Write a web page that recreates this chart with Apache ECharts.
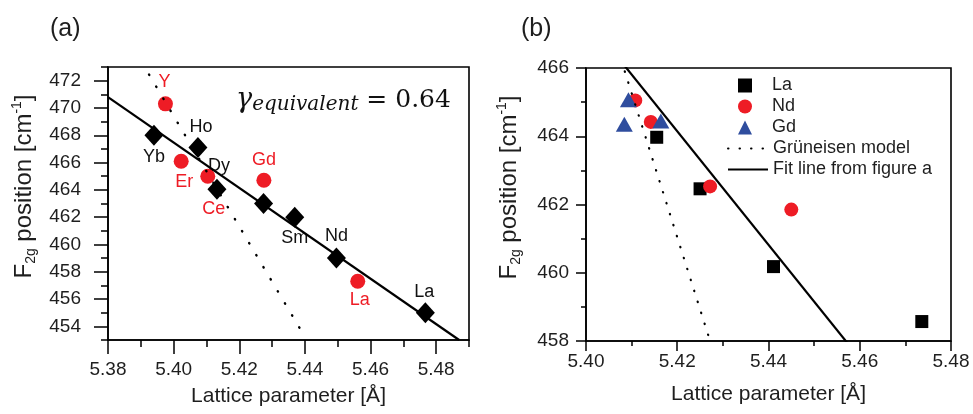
<!DOCTYPE html>
<html><head><meta charset="utf-8">
<script src="https://cdn.jsdelivr.net/npm/echarts@6/dist/echarts.min.js"></script>
<style>html,body{margin:0;padding:0;background:#fff}#c{width:973px;height:414px}</style>
</head><body><div id="c"></div>
<script>
// ---------- Panel (a) data ----------
const aDiamondNames = ['Yb', 'Ho', 'Dy', '', 'Sm', 'Nd', 'La'];
const aDiamondX = [5.394, 5.4074, 5.4132, 5.4274, 5.4369, 5.4496, 5.4767];
const aDiamondY = [468.0, 467.1, 464.05, 463.0, 462.0, 459.0, 455.0];
const aCircleNames = ['Y', 'Er', 'Ce', 'Gd', 'La'];
const aCircleX = [5.3975, 5.4023, 5.4104, 5.4275, 5.4561];
const aCircleY = [470.3, 466.1, 465.0, 464.7, 457.3];
const fitX = [5.38, 5.487];
const fitY = [470.8, 453.0];
const aGrunX = [5.3925, 5.4392];
const aGrunY = [472.45, 453.55];
const aXTicks = [5.38, 5.40, 5.42, 5.44, 5.46, 5.48];
const aYTicks = [454, 456, 458, 460, 462, 464, 466, 468, 470, 472];
const gammaText = 'γ|equivalent| = 0.64';
// ---------- Panel (b) data ----------
const bLaX = [5.4155, 5.4250, 5.4411, 5.4736];
const bLaY = [463.97, 462.46, 460.18, 458.57];
const bNdX = [5.4108, 5.4142, 5.4272, 5.4450];
const bNdY = [465.05, 464.42, 462.53, 461.85];
const bGdX = [5.4093, 5.4084, 5.4164];
const bGdY = [465.07, 464.35, 464.45];
const bGrunX = [5.4085, 5.4272];
const bGrunY = [465.9, 458.0];
const legendNames = ['La', 'Nd', 'Gd', 'Grüneisen model', 'Fit line from figure a'];
const panelLabels = ['(a)', '(b)'];

// ---------- styles ----------
const FONT = '"Liberation Sans", Arial, sans-serif';
const SERIF = '"DejaVu Serif", serif';
const RED = '#ee1c25';
const BLUE = '#2f4d9e';
const TXT = '#1e1e1e';
// label offsets (pixels) for annotations in panel (a)
const aDiamondLabelOff = [[0, 22], [3, -21], [2, -23], [0, 0], [0, 21], [0, -22], [-1, -21]];
const aCircleLabelOff = [[-1, -22], [3, 21], [6, 33], [0, -20], [2, 19]];

const zip = (xs, ys) => xs.map((x, i) => [x, ys[i]]);

const yNameRich = {
  t: {fontSize: 24, fontFamily: FONT, color: TXT, lineHeight: 28},
  s: {fontSize: 14, fontFamily: FONT, color: TXT, lineHeight: 14, verticalAlign: 'bottom'},
  p: {fontSize: 14, fontFamily: FONT, color: TXT, lineHeight: 14, verticalAlign: 'top'}
};
const yName = '{t|F}{s|2g}{t| position [cm}{p|-1}{t|]}';

function mainAxisCommon() {
  return {
    type: 'value',
    splitLine: {show: false},
    axisLine: {show: true, lineStyle: {color: '#000', width: 1.6}},
    axisTick: {show: true, inside: false, lineStyle: {color: '#000', width: 1.5}},
    axisLabel: {color: TXT, fontSize: 19, fontFamily: FONT},
    nameTextStyle: {color: TXT, fontSize: 21, fontFamily: FONT}
  };
}
function minorAxis(gridIndex, min, max, interval, pos) {
  return {
    type: 'value', gridIndex, min, max, interval, position: pos,
    splitLine: {show: false},
    axisLine: {show: false},
    axisLabel: {show: false},
    axisTick: {show: true, length: 7, lineStyle: {color: '#000', width: 1.5}}
  };
}

const gp = gammaText.split('|');
const noDot = {opacity: 0};
const legendText = {fontSize: 18, fontFamily: FONT, color: TXT, lineHeight: 21};

const option = {
  animation: false,
  backgroundColor: '#fff',
  title: [
    {text: panelLabels[0], left: 45, top: 12, textStyle: {fontSize: 25, fontWeight: 'normal', fontFamily: FONT, color: TXT}},
    {text: panelLabels[1], left: 516, top: 12, textStyle: {fontSize: 25, fontWeight: 'normal', fontFamily: FONT, color: TXT}},
    {
      text: '{g|' + gp[0] + '}{s|' + gp[1] + '}{m|' + gp[2] + '}',
      left: 231, top: 80,
      textStyle: {
        fontWeight: 'normal',
        rich: {
          g: {fontSize: 27, fontFamily: SERIF, fontStyle: 'italic', fontWeight: 'normal', color: '#111', lineHeight: 30},
          s: {fontSize: 20, fontFamily: SERIF, fontStyle: 'italic', fontWeight: 'normal', color: '#111', lineHeight: 24, verticalAlign: 'bottom'},
          m: {fontSize: 25, fontFamily: SERIF, fontWeight: 'normal', color: '#111', lineHeight: 30}
        }
      }
    }
  ],
  grid: [
    {left: 108, top: 67, width: 361, height: 273, show: true, borderColor: '#000', borderWidth: 1.6, backgroundColor: 'transparent'},
    {left: 586, top: 68, width: 365, height: 273, show: true, borderColor: '#000', borderWidth: 1.6, backgroundColor: 'transparent'}
  ],
  legend: [
    {
      orient: 'vertical', left: 733, top: 70,
      itemWidth: 14, itemHeight: 14, itemGap: 0,
      textStyle: Object.assign({padding: [0, 0, 0, 15]}, legendText),
      data: [
        {name: legendNames[0], icon: 'rect'},
        {name: legendNames[1], icon: 'circle'},
        {name: legendNames[2], icon: 'triangle'}
      ],
      selectedMode: false
    },
    {
      orient: 'vertical', left: 722, top: 133,
      itemWidth: 40, itemHeight: 14, itemGap: 0,
      textStyle: legendText,
      data: [
        {name: legendNames[3], itemStyle: noDot},
        {name: legendNames[4], itemStyle: noDot}
      ],
      selectedMode: false
    }
  ],
  xAxis: [
    Object.assign(mainAxisCommon(), {
      gridIndex: 0, min: 5.38, max: 5.49, position: 'bottom',
      axisTick: {show: true, length: 14, customValues: aXTicks, lineStyle: {color: '#000', width: 1.5}},
      axisLabel: {color: TXT, fontSize: 19, fontFamily: FONT, margin: 20, customValues: aXTicks, formatter: v => Number(v).toFixed(2)},
      name: 'Lattice parameter [Å]', nameLocation: 'middle', nameGap: 46
    }),
    minorAxis(0, 5.38, 5.49, 0.01, 'bottom'),
    Object.assign(mainAxisCommon(), {
      gridIndex: 1, min: 5.40, max: 5.48, interval: 0.02, position: 'bottom',
      axisTick: {show: true, length: 10, lineStyle: {color: '#000', width: 1.5}},
      minorTick: {show: true, splitNumber: 2, length: 5, lineStyle: {color: '#000', width: 1.5}},
      axisLabel: {color: TXT, fontSize: 19, fontFamily: FONT, margin: 11, formatter: v => Number(v).toFixed(2)},
      name: 'Lattice parameter [Å]', nameLocation: 'middle', nameGap: 43
    })
  ],
  yAxis: [
    Object.assign(mainAxisCommon(), {
      gridIndex: 0, min: 453, max: 473, position: 'left',
      axisTick: {show: true, length: 14, customValues: aYTicks, lineStyle: {color: '#000', width: 1.5}},
      axisLabel: {color: TXT, fontSize: 19, fontFamily: FONT, margin: 27, customValues: aYTicks},
      name: yName, nameLocation: 'middle', nameGap: 70, nameRotate: 90,
      nameTextStyle: {rich: yNameRich, padding: [0, 0, 0, 34]}
    }),
    minorAxis(0, 453, 473, 1, 'left'),
    Object.assign(mainAxisCommon(), {
      gridIndex: 1, min: 458, max: 466, interval: 2, position: 'left',
      axisTick: {show: true, length: 10, lineStyle: {color: '#000', width: 1.5}},
      minorTick: {show: true, splitNumber: 2, length: 5, lineStyle: {color: '#000', width: 1.5}},
      axisLabel: {color: TXT, fontSize: 19, fontFamily: FONT, margin: 17},
      name: yName, nameLocation: 'middle', nameGap: 63, nameRotate: 90,
      nameTextStyle: {rich: yNameRich, padding: [0, 0, 0, 34]}
    })
  ],
  series: [
    // ----- panel (a) -----
    {
      name: 'a-diamonds', type: 'scatter', xAxisIndex: 0, yAxisIndex: 0,
      symbol: 'diamond', symbolSize: [19, 21],
      itemStyle: {color: '#000', opacity: 1},
      data: aDiamondX.map((x, i) => ({name: aDiamondNames[i], value: [x, aDiamondY[i]]})),
      label: {show: true, position: 'inside', formatter: '{b}', fontSize: 18, fontFamily: FONT, color: '#111'},
      labelLayout: p => ({dx: aDiamondLabelOff[p.dataIndex][0], dy: aDiamondLabelOff[p.dataIndex][1]}),
      z: 3
    },
    {
      name: 'a-circles', type: 'scatter', xAxisIndex: 0, yAxisIndex: 0,
      symbol: 'circle', symbolSize: 15,
      itemStyle: {color: RED, opacity: 1},
      data: aCircleX.map((x, i) => ({name: aCircleNames[i], value: [x, aCircleY[i]]})),
      label: {show: true, position: 'inside', formatter: '{b}', fontSize: 18, fontFamily: FONT, color: RED},
      labelLayout: p => ({dx: aCircleLabelOff[p.dataIndex][0], dy: aCircleLabelOff[p.dataIndex][1]}),
      z: 4
    },
    {
      name: 'a-fit', type: 'line', xAxisIndex: 0, yAxisIndex: 0,
      data: zip(fitX, fitY), symbol: 'none', clip: true,
      lineStyle: {color: '#000', width: 2.2}, z: 5
    },
    {
      name: 'a-grun', type: 'line', xAxisIndex: 0, yAxisIndex: 0,
      data: zip(aGrunX, aGrunY), symbol: 'none', clip: true,
      lineStyle: {color: '#000', width: 2.4, type: [0.5, 13.5], cap: 'round'}, z: 5
    },
    // ----- panel (b) -----
    {
      name: legendNames[0], type: 'scatter', xAxisIndex: 2, yAxisIndex: 2,
      symbol: 'rect', symbolSize: 13, itemStyle: {color: '#000', opacity: 1},
      data: zip(bLaX, bLaY), z: 3
    },
    {
      name: legendNames[1], type: 'scatter', xAxisIndex: 2, yAxisIndex: 2,
      symbol: 'circle', symbolSize: 14, itemStyle: {color: RED, opacity: 1},
      data: zip(bNdX, bNdY), z: 3
    },
    {
      name: legendNames[2], type: 'scatter', xAxisIndex: 2, yAxisIndex: 2,
      symbol: 'triangle', symbolSize: [17, 15], itemStyle: {color: BLUE, opacity: 1},
      data: zip(bGdX, bGdY), z: 3
    },
    {
      name: legendNames[3], type: 'line', xAxisIndex: 2, yAxisIndex: 2,
      data: zip(bGrunX, bGrunY), symbol: 'none', clip: true,
      itemStyle: {color: '#000'},
      lineStyle: {color: '#000', width: 2.2, type: [0.5, 11], cap: 'round'}, z: 4
    },
    {
      name: legendNames[4], type: 'line', xAxisIndex: 2, yAxisIndex: 2,
      data: zip(fitX, fitY), symbol: 'none', clip: true,
      itemStyle: {color: '#000'},
      lineStyle: {color: '#000', width: 2.2}, z: 4
    }
  ]
};

const chart = echarts.init(document.getElementById('c'), null, {renderer: 'canvas'});
chart.setOption(option);
</script>
</body></html>
